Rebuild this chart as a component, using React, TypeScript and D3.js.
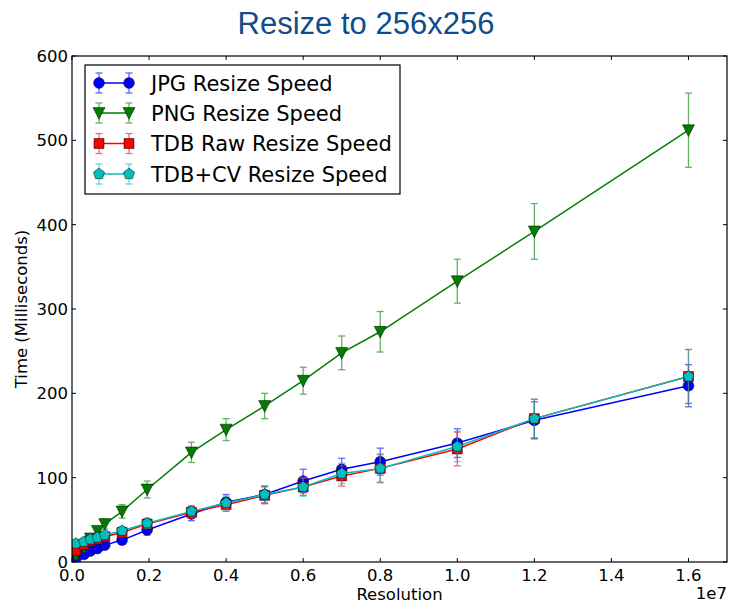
import React from "react";
import * as d3 from "d3";

// Image resolution in pixels (x axis is shown in units of 1e7)
const resolution = [
  100000, 310000, 480000, 660000, 850000, 1300000, 1950000, 3100000,
  4000000, 5000000, 6000000, 7000000, 8000000, 10000000, 12000000, 16000000,
];

// Mean resize time in milliseconds, with error half-widths
const jpgTime = [4, 9, 13, 16, 20, 26, 38, 57, 71, 80, 96, 110, 119, 141, 168, 209];
const jpgErr = [3, 3, 3, 3, 4, 5, 6, 8, 9, 10, 14, 13, 16, 17, 22, 25];

const pngTime = [8, 17, 28, 37, 45, 60, 86, 130, 157, 185, 215, 248, 273, 333, 392, 512];
const pngErr = [4, 4, 5, 5, 6, 8, 10, 12, 13, 15, 16, 20, 24, 26, 33, 44];

const tdbRawTime = [14, 21, 25, 27, 30, 35, 45, 59, 68, 79, 89, 102, 111, 134, 170, 220];
const tdbRawErr = [4, 4, 4, 4, 4, 5, 6, 7, 8, 10, 10, 12, 17, 20, 23, 32];

const tdbCvTime = [22, 24, 27, 29, 32, 37, 46, 60, 70, 80, 89, 105, 111, 137, 170, 220];
const tdbCvErr = [4, 4, 4, 4, 4, 5, 6, 7, 8, 10, 11, 12, 16, 18, 23, 32];

const seriesNames = [
  "JPG Resize Speed",
  "PNG Resize Speed",
  "TDB Raw Resize Speed",
  "TDB+CV Resize Speed",
];

const xTicks = [0, 2e6, 4e6, 6e6, 8e6, 10e6, 12e6, 14e6, 16e6];
const yTicks = [0, 100, 200, 300, 400, 500, 600];

type MarkerKind = "circle" | "triangleDown" | "square" | "pentagon";

const series = [
  { name: seriesNames[0], values: jpgTime, errors: jpgErr, color: "#0000ff", marker: "circle" as MarkerKind },
  { name: seriesNames[1], values: pngTime, errors: pngErr, color: "#007f00", marker: "triangleDown" as MarkerKind },
  { name: seriesNames[2], values: tdbRawTime, errors: tdbRawErr, color: "#ff0000", marker: "square" as MarkerKind },
  { name: seriesNames[3], values: tdbCvTime, errors: tdbCvErr, color: "#00bfbf", marker: "pentagon" as MarkerKind },
];

const W = 732;
const H = 605;
const margin = { left: 72, right: W - 727, top: 56, bottom: H - 562 };
const axisFont = "'DejaVu Sans', sans-serif";

function markerPath(kind: MarkerKind): string {
  if (kind === "circle") {
    const r = 5.4;
    return `M${r},0A${r},${r},0,1,1,${-r},0A${r},${r},0,1,1,${r},0Z`;
  }
  if (kind === "square") {
    const s = 5;
    return `M${-s},${-s}H${s}V${s}H${-s}Z`;
  }
  if (kind === "triangleDown") {
    const s = 6;
    return `M${-s},${-s * 0.9}L${s},${-s * 0.9}L0,${s * 1.05}Z`;
  }
  const r = 5.8;
  const pts = d3.range(5).map((i) => {
    const a = -Math.PI / 2 + (i * 2 * Math.PI) / 5;
    return [r * Math.cos(a), r * Math.sin(a)];
  });
  return "M" + pts.map((p) => p.join(",")).join("L") + "Z";
}

function ErrorBar({ x, y0, y1, color }: { x: number; y0: number; y1: number; color: string }) {
  const cap = 3.5;
  return (
    <g stroke={color} strokeWidth={1.3} opacity={0.6}>
      <line x1={x} x2={x} y1={y0} y2={y1} />
      <line x1={x - cap} x2={x + cap} y1={y0} y2={y0} />
      <line x1={x - cap} x2={x + cap} y1={y1} y2={y1} />
    </g>
  );
}

export default function App() {
  const x = d3.scaleLinear().domain([0, 1.7e7]).range([margin.left, W - margin.right]);
  const y = d3.scaleLinear().domain([0, 600]).range([H - margin.bottom, margin.top]);
  const line = d3
    .line<number>()
    .x((_, i) => x(resolution[i]))
    .y((v) => y(v));

  const x0 = margin.left;
  const x1 = W - margin.right;
  const y0 = H - margin.bottom;
  const y1 = margin.top;
  const tickLen = 4;

  const legend = { left: 85, top: 65, width: 315, height: 129 };
  const rowY = [83, 113, 143.5, 174];

  return (
    <svg
      width={W}
      height={H}
      style={{ position: "absolute", left: 0, top: 0, background: "#fff" }}
    >
      <text
        x={366}
        y={34}
        textAnchor="middle"
        fontFamily="'Liberation Sans', Arial, sans-serif"
        fontSize={31}
        fill="#0f4c8c"
      >
        Resize to 256x256
      </text>

      <defs>
        <clipPath id="plot-area">
          <rect x={x0} y={y1} width={x1 - x0} height={y0 - y1} />
        </clipPath>
      </defs>

      <g clipPath="url(#plot-area)">
        {series.map((s) => (
          <g key={s.name}>
            {s.values.map((v, i) => (
              <ErrorBar
                key={i}
                x={x(resolution[i])}
                y0={y(v - s.errors[i])}
                y1={y(v + s.errors[i])}
                color={s.color}
              />
            ))}
            <path d={line(s.values) || ""} fill="none" stroke={s.color} strokeWidth={1.5} />
            {s.values.map((v, i) => (
              <path
                key={i}
                d={markerPath(s.marker)}
                transform={`translate(${x(resolution[i])},${y(v)})`}
                fill={s.color}
                stroke="#000"
                strokeWidth={0.5}
              />
            ))}
          </g>
        ))}
      </g>

      {/* frame and inward ticks */}
      <rect x={x0} y={y1} width={x1 - x0} height={y0 - y1} fill="none" stroke="#000" strokeWidth={1.2} />
      {xTicks.map((t) => (
        <g key={t}>
          <line x1={x(t)} x2={x(t)} y1={y0} y2={y0 - tickLen} stroke="#000" />
          <line x1={x(t)} x2={x(t)} y1={y1} y2={y1 + tickLen} stroke="#000" />
          <text
            x={x(t)}
            y={y0 + 19}
            textAnchor="middle"
            fontFamily={axisFont}
            fontSize={16.5}
            fill="#000"
          >
            {(t / 1e7).toFixed(1)}
          </text>
        </g>
      ))}
      {yTicks.map((t) => (
        <g key={t}>
          <line x1={x0} x2={x0 + tickLen} y1={y(t)} y2={y(t)} stroke="#000" />
          <line x1={x1} x2={x1 - tickLen} y1={y(t)} y2={y(t)} stroke="#000" />
          <text
            x={x0 - 4}
            y={y(t) + 6}
            textAnchor="end"
            fontFamily={axisFont}
            fontSize={16.5}
            fill="#000"
          >
            {t}
          </text>
        </g>
      ))}
      <text x={x1} y={y0 + 37} textAnchor="end" fontFamily={axisFont} fontSize={16.5} fill="#000">
        1e7
      </text>
      <text
        x={(x0 + x1) / 2}
        y={y0 + 38}
        textAnchor="middle"
        fontFamily={axisFont}
        fontSize={16.5}
        fill="#000"
      >
        Resolution
      </text>
      <text
        transform={`translate(27,${(y0 + y1) / 2}) rotate(-90)`}
        textAnchor="middle"
        fontFamily={axisFont}
        fontSize={16.5}
        fill="#000"
      >
        Time (Milliseconds)
      </text>

      {/* legend */}
      <rect
        x={legend.left}
        y={legend.top}
        width={legend.width}
        height={legend.height}
        fill="#fff"
        stroke="#000"
        strokeWidth={1.2}
      />
      {series.map((s, i) => {
        const ry = rowY[i];
        const lx0 = 99;
        const lx1 = 129;
        return (
          <g key={s.name}>
            <ErrorBar x={lx0} y0={ry - 10} y1={ry + 10} color={s.color} />
            <ErrorBar x={lx1} y0={ry - 10} y1={ry + 10} color={s.color} />
            <line x1={lx0} x2={lx1} y1={ry} y2={ry} stroke={s.color} strokeWidth={1.5} />
            {[lx0, lx1].map((mx) => (
              <path
                key={mx}
                d={markerPath(s.marker)}
                transform={`translate(${mx},${ry})`}
                fill={s.color}
                stroke="#000"
                strokeWidth={0.5}
              />
            ))}
            <text x={151} y={ry + 7.5} fontFamily={axisFont} fontSize={21} fill="#000">
              {s.name}
            </text>
          </g>
        );
      })}
    </svg>
  );
}
